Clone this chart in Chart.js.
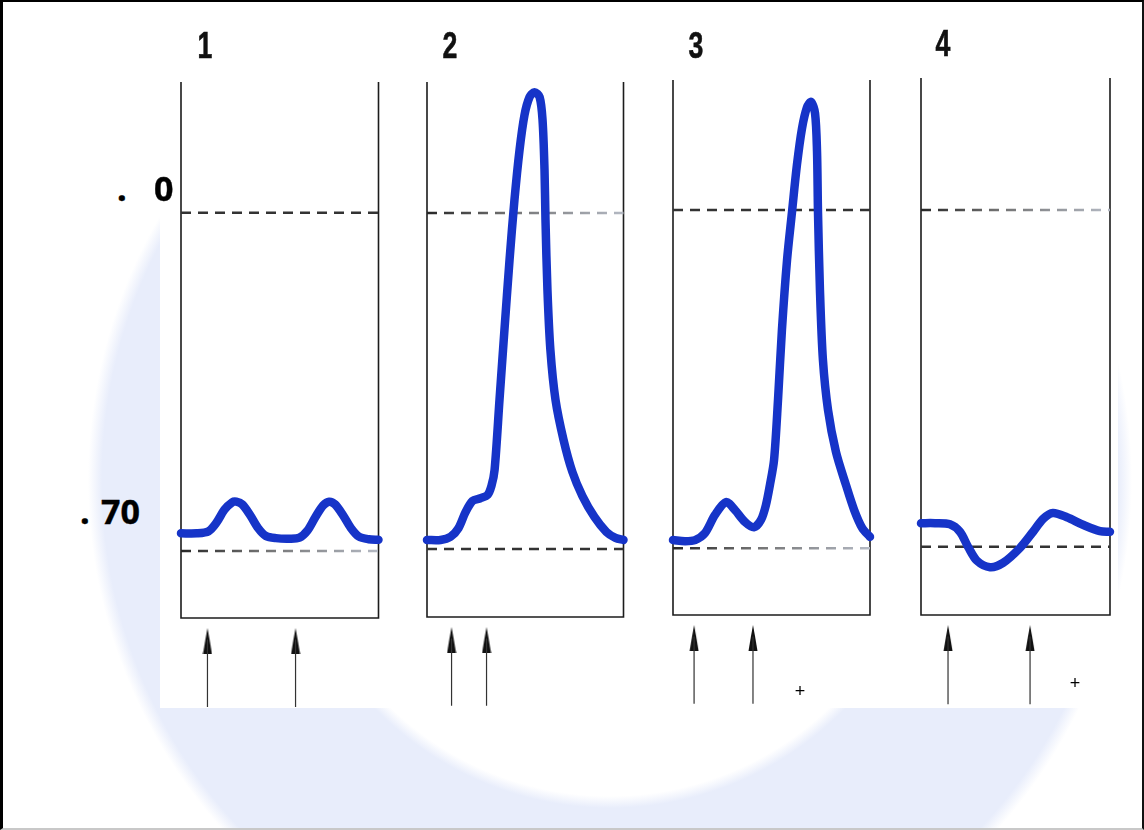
<!DOCTYPE html>
<html>
<head>
<meta charset="utf-8">
<script src="https://cdn.jsdelivr.net/npm/chart.js@4.4.0/dist/chart.umd.min.js"></script>
<style>
  html, body { margin: 0; padding: 0; }
  body { width: 1144px; height: 830px; position: relative; overflow: hidden; background: #fff; }
  #watermark {
    position: absolute; left: 0; top: 0; width: 1144px; height: 830px;
    background: radial-gradient(circle at 610px 480px, rgba(255,255,255,0) 0, rgba(255,255,255,0) 316px,
                #e8edfb 328px, #e8edfb 508px, rgba(255,255,255,0) 522px);
  }
  #sheet { position: absolute; left: 160px; top: 2px; width: 958px; height: 706px; background: #fff; }
  #frame {
    position: absolute; left: 0; top: 0; width: 1144px; height: 830px; box-sizing: border-box;
    border-left: 3px solid #000; border-top: 2px solid #000; border-right: 2px solid #111; border-bottom: 2px solid #c8c8c8;
  }
  .panel { position: absolute; }
  .num { position: absolute; width: 30px; margin-left: -15px; text-align: center; line-height: 1;
         font: bold 36px "Liberation Sans", sans-serif; color: #111; transform: scaleX(0.74);
         -webkit-text-stroke: 0.6px #111; }
  .lvl { position: absolute; line-height: 1; font: bold 34px "Open Sans", sans-serif; color: #000; white-space: pre;
         -webkit-text-stroke: 0.4px #000; }
  .plus { position: absolute; width: 20px; margin-left: -10px; text-align: center; line-height: 1;
          font: 18px "Liberation Sans", sans-serif; color: #000; }
</style>
</head>
<body>
<div id="watermark"></div>
<div id="sheet"></div>
<div id="frame"></div>
<div id="panels"></div>

<div class="num" style="left:205px; top:25px;">1</div>
<div class="num" style="left:450px; top:25px;">2</div>
<div class="num" style="left:696px; top:25px;">3</div>
<div class="num" style="left:943px; top:23px;">4</div>

<div class="lvl" style="left:117px; top:165px;">.</div>
<div class="lvl" style="left:154px; top:165px;">0</div>
<div class="lvl" style="left:80px; top:488px;">.</div>
<div class="lvl" style="left:101px; top:488px;">70</div>

<div class="plus" style="left:800px; top:681px;">+</div>
<div class="plus" style="left:1075px; top:673px;">+</div>

<script>
// x = % of panel width, y = % of panel height (0 = bottom line of the panel)
const curve1X = [0, 8, 14, 18, 22, 26, 28, 31, 35, 39, 43, 48, 55, 60, 64, 68, 72, 75, 78, 82, 86, 90, 95, 100];
const curve1Y = [15.8, 15.8, 16.2, 17.8, 20.2, 21.6, 21.7, 21.2, 19.2, 16.8, 15.3, 14.9, 14.8, 15.0, 16.3, 18.8, 21.0, 21.7, 21.2, 19.2, 16.8, 15.2, 14.7, 14.6];

const curve2X = [0, 6.9, 12.0, 16.0, 19.6, 23.2, 27.2, 30.8, 32.8, 34.4, 36.9, 39.4, 42.0, 44.5, 47.1, 49.6, 52.2, 54.7, 57.3, 58.8, 59.8, 60.3, 61.3, 62.8, 65.4, 69.5, 74.0, 79.1, 85.2, 91.3, 95.9, 100];
const curve2Y = [14.4, 14.4, 15.0, 16.6, 19.6, 21.7, 22.2, 22.8, 24.5, 27.5, 40.6, 53.6, 66.7, 77.9, 87.3, 93.8, 97.2, 98.1, 97.2, 92.9, 83.6, 74.2, 61.1, 49.9, 40.6, 33.1, 27.1, 22.6, 18.7, 15.9, 14.8, 14.4];

const curve3X = [0, 6.1, 11.2, 16.2, 21.3, 26.9, 31.5, 36.5, 41.1, 44.7, 47.2, 49.2, 51.3, 53.3, 55.3, 57.9, 60.4, 62.9, 65.5, 68.0, 70.1, 72.1, 73.1, 73.6, 74.6, 76.1, 78.7, 82.7, 87.8, 92.0, 96.0, 100];
const curve3Y = [14.0, 13.8, 14.0, 15.3, 18.7, 21.1, 19.6, 17.4, 16.4, 17.8, 20.6, 24.3, 29.0, 40.2, 53.3, 66.4, 75.3, 84.1, 91.0, 94.9, 95.9, 93.8, 86.7, 75.3, 60.7, 47.7, 38.3, 30.5, 24.3, 19.6, 16.3, 14.6];

const curve4X = [0, 7.4, 15.3, 20.6, 24.9, 29.6, 36.5, 43.4, 52.4, 59.3, 64.6, 69.8, 77.2, 85.7, 94.7, 100];
const curve4Y = [17.1, 17.1, 16.9, 15.5, 12.7, 10.1, 8.9, 9.7, 12.5, 15.5, 17.9, 19.0, 18.2, 16.8, 15.6, 15.5];

const upperLevels = [75.6, 75.5, 75.7, 75.4];
const lowerLevels = [12.5, 12.7, 12.5, 12.7];
const arrowXs = [[13.4, 58.0], [12.5, 30.3], [10.7, 40.6], [14.3, 57.7]];

const curvesX = [curve1X, curve2X, curve3X, curve4X];
const curvesY = [curve1Y, curve2Y, curve3Y, curve4Y];

// layout of the four boxes on the page (box = y 0..100)
const boxes = [
  { left: 180.5, top: 82, width: 197.5, height: 536 },
  { left: 426.5, top: 82, width: 196.5, height: 535 },
  { left: 673, top: 80, width: 197, height: 535 },
  { left: 921, top: 78, width: 189, height: 537 }
];
const upperFade = [false, true, false, true];
const lowerFade = [true, false, true, false];
const Y_MIN = -20;
const PAD = { left: 12, right: 12, top: 20, bottom: 8 };
const HEAD_Y = -4.3, SHAFT_TOP = -4, SHAFT_END = -16.6;

function makeHead() {
  const c = document.createElement('canvas');
  c.width = 10; c.height = 26;
  const g = c.getContext('2d');
  g.fillStyle = '#111';
  g.beginPath();
  g.moveTo(5, 0);
  g.lineTo(7, 11);
  g.lineTo(9.5, 26);
  g.lineTo(0.5, 26);
  g.lineTo(3, 11);
  g.closePath();
  g.fill();
  return c;
}
const headImg = makeHead();

function dashColor(fade) {
  return (ctx) => {
    const area = ctx.chart.chartArea;
    if (!fade || !area) return '#333';
    const g = ctx.chart.ctx.createLinearGradient(area.left, 0, area.right, 0);
    g.addColorStop(0, '#262626');
    g.addColorStop(0.4, '#707070');
    g.addColorStop(1, '#b4b9c3');
    return g;
  };
}

function level(y) {
  return [{ x: 0, y: y }, { x: 100, y: y }];
}

const holder = document.getElementById('panels');

boxes.forEach((box, i) => {
  const areaH = box.height * (100 - Y_MIN) / 100;
  const div = document.createElement('div');
  div.className = 'panel';
  div.style.left = (box.left - PAD.left) + 'px';
  div.style.top = (box.top - PAD.top) + 'px';
  div.style.width = (box.width + PAD.left + PAD.right) + 'px';
  div.style.height = (areaH + PAD.top + PAD.bottom) + 'px';
  const canvas = document.createElement('canvas');
  div.appendChild(canvas);
  holder.appendChild(div);

  const curve = curvesX[i].map((x, k) => ({ x: x, y: curvesY[i][k] }));

  const datasets = [
    {
      data: curve,
      borderColor: '#1634c8',
      borderWidth: 8.5,
      tension: 0.3,
      borderCapStyle: 'round',
      borderJoinStyle: 'round'
    },
    { data: level(upperLevels[i]), borderColor: dashColor(upperFade[i]), borderWidth: 2.5, borderDash: [10, 7] },
    { data: level(lowerLevels[i]), borderColor: dashColor(lowerFade[i]), borderWidth: 2.5, borderDash: [10, 7] },
    {
      data: [{ x: 0, y: 100 }, { x: 0, y: 0 }, { x: 100, y: 0 }, { x: 100, y: 100 }],
      borderColor: '#1c1c1c',
      borderWidth: 1.6,
      borderJoinStyle: 'miter'
    }
  ];

  arrowXs[i].forEach(x => {
    datasets.push({
      data: [{ x: x, y: SHAFT_TOP }, { x: x, y: SHAFT_END }],
      borderColor: '#333',
      borderWidth: 1.2
    });
  });

  datasets.push({
    data: arrowXs[i].map(x => ({ x: x, y: HEAD_Y })),
    showLine: false,
    pointStyle: headImg,
    pointRadius: 6
  });

  new Chart(canvas.getContext('2d'), {
    type: 'line',
    data: { datasets: datasets },
    options: {
      responsive: true,
      maintainAspectRatio: false,
      devicePixelRatio: 1,
      animation: false,
      events: [],
      layout: { padding: PAD },
      datasets: { line: { clip: false, pointRadius: 0, tension: 0 } },
      plugins: { legend: { display: false }, tooltip: { enabled: false }, title: { display: false } },
      scales: {
        x: { type: 'linear', min: 0, max: 100, display: false },
        y: { type: 'linear', min: Y_MIN, max: 100, display: false }
      }
    }
  });
});
</script>
</body>
</html>
